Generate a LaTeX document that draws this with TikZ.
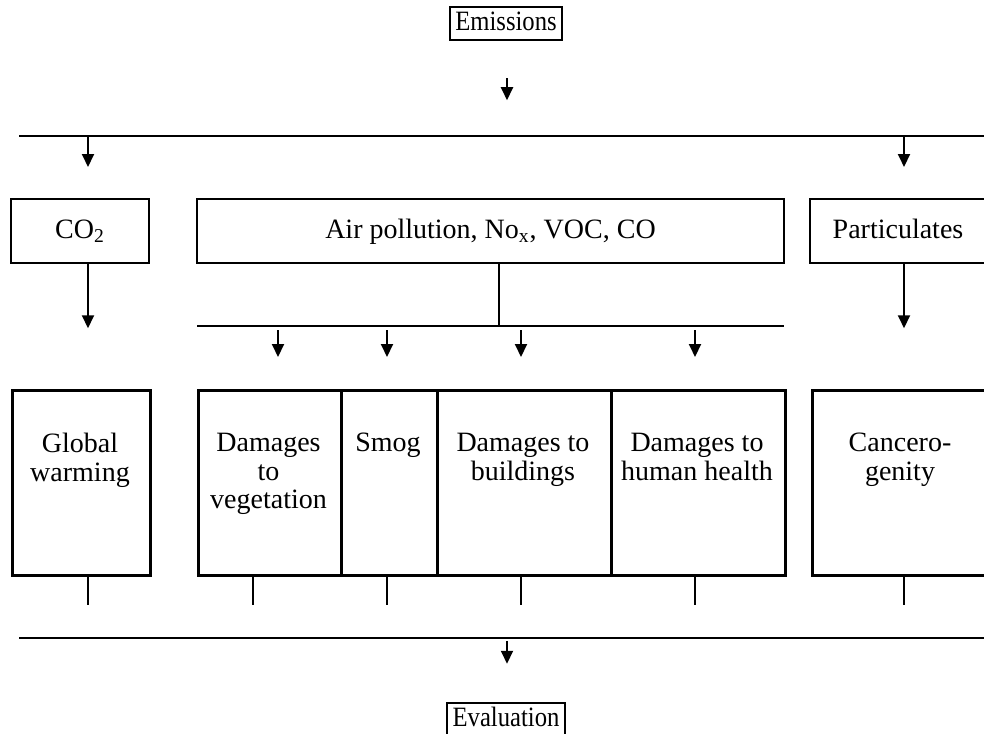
\documentclass[tikz,border=0pt]{standalone}
\usepackage{fontspec}
\setmainfont{Liberation Serif}
\usetikzlibrary{arrows.meta,positioning,calc}

\tikzset{
  every node/.style={font=\fontsize{14}{14.3}\selectfont},
  tag/.style={draw, inner sep=0pt, minimum height=16.5pt, text height=9.5pt, text depth=2.5pt},
  box/.style={draw, inner sep=0pt, minimum height=32pt, text height=10pt, text depth=3pt},
  tallbox/.style={draw, inner sep=0pt, minimum height=92.5pt, anchor=north west},
  txt/.style={align=center, inner sep=0pt, anchor=north},
  tick/.style={line width=0.7pt}
}

\begin{document}
\begin{tikzpicture}[x=0.5pt, y=-0.5pt, line width=1.25pt,
    >={Triangle[width=6pt,length=6.5pt]}]
  \useasboundingbox (0,0) rectangle (984,733);

  % 1. Emissions on top, one arrow down to the top line
  \node[tag, minimum width=56pt] (emis) at (506,23.5) {\scalebox{0.88}[1]{Emissions}};
  \draw[->, line width=1pt] ($(emis.south)+(1,37)$) -- ++(0,22);
  \draw (19,136) -- (1000,136);

  % 2. First row: the three kinds of emissions
  \node[box, minimum width=69pt] (co2) at (80,231) {CO\textsubscript{2}};
  \node[box, minimum width=293.5pt] (air) at (490.5,231) {Air pollution, No\textsubscript{x}, VOC, CO};
  \node[box, minimum width=88pt] (part) at (898,231) {Particulates};

  \foreach \x in {88,904} {
    \draw[->, line width=1pt] (\x,136) -- (\x,167);
  }

  % 3. From the first row down to the effects
  \draw[->, line width=1pt] ($(co2.south)+(8,0)$) -- ++(0,64);
  \draw[->, line width=1pt] ($(part.south)+(6,0)$) -- ++(0,64);
  \draw ($(air.south)+(8.5,0)$) -- ++(0,63);
  \draw (197,326) -- (784,326);
  \foreach \x in {278,387,521,695} {
    \draw[->, line width=1pt] (\x,330) -- (\x,357);
  }

  % 4. Second row: the effects (boxes, then their texts)
  \node[tallbox, minimum width=69pt] (gw) at (11,389) {};
  \node[tallbox, minimum width=71.5pt] (veg) at (197,389) {};
  \node[tallbox, minimum width=48pt] (smog) at (340,389) {};
  \node[tallbox, minimum width=87pt] (build) at (436,389) {};
  \node[tallbox, minimum width=87pt] (health) at (610,389) {};
  \node[tallbox, minimum width=89pt] (canc) at (811,389) {};

  \node[txt] (gwt) at (80,432) {Global\\warming};
  \node[txt] (vegt) at (268.5,432) {Damages\\to\\vegetation};
  \node[txt] (smogt) at (388,432) {Smog};
  \node[txt] (buildt) at (523,432) {Damages to\\buildings};
  \node[txt] (healtht) at (697,432) {Damages to\\human health};
  \node[txt] (canct) at (900,432) {Cancero-\\genity};

  % 5. Short strokes under the effects, the bottom line, Evaluation
  \foreach \x in {88,253,387,521,695,904} {
    \draw[tick] (\x,577) -- (\x,605);
  }
  \draw (19,638) -- (1000,638);
  \node[tag, minimum width=59pt] (eval) at (506,719.5) {\scalebox{0.88}[1]{Evaluation}};
  \draw[->, line width=1pt] ($(eval.north)+(1,-61)$) -- ++(0,23);
\end{tikzpicture}
\end{document}
